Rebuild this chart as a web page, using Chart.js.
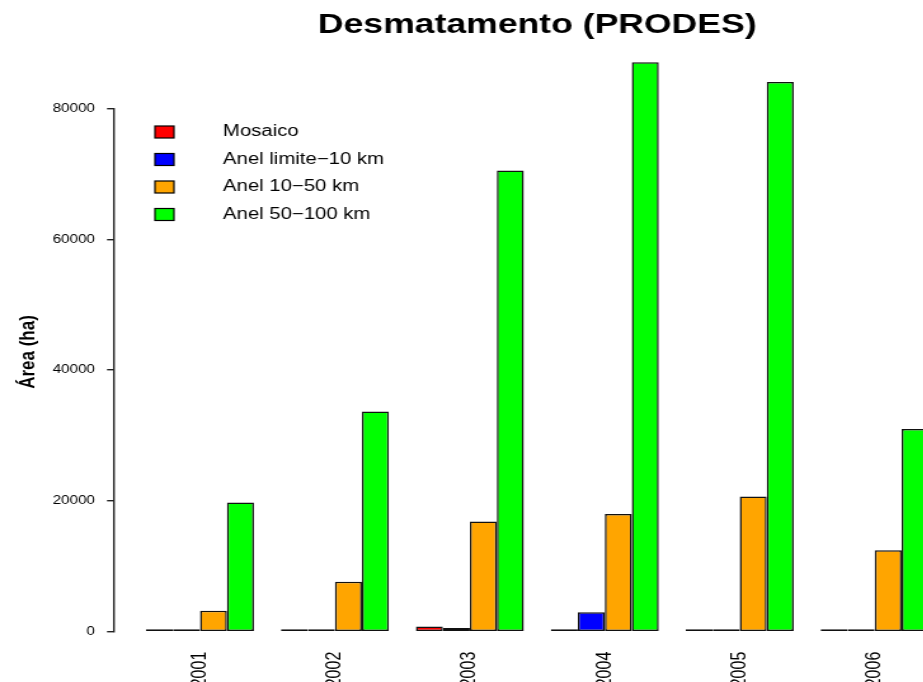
<!DOCTYPE html>
<html>
<head>
<meta charset="utf-8">
<script src="https://cdn.jsdelivr.net/npm/chart.js@4.4.1/dist/chart.umd.min.js"></script>
<style>
  html, body { margin: 0; padding: 0; background: #fff; overflow: hidden; }
  /* o grafico original esta esticado na horizontal */
  #wrap { width: 846px; height: 682px; transform: scaleX(1.27); transform-origin: 0 0; }
</style>
</head>
<body>
<div id="wrap"><canvas id="grafBarras" width="846" height="682"></canvas></div>
<script>
// Dados
const anos = ['2001', '2002', '2003', '2004', '2005', '2006'];
const nomesSeries = ['Mosaico', 'Anel limite\u221210 km', 'Anel 10\u221250 km', 'Anel 50\u2212100 km'];
const mosaico    = [0, 0, 800, 150, 0, 80];
const anelLimite = [0, 0, 550, 2970, 100, 0];
const anel10a50  = [3210, 7650, 16830, 18000, 20650, 12450];
const anel50a100 = [19740, 33660, 70520, 87040, 84050, 31000];
const ticksY = [0, 20000, 40000, 60000, 80000];

const cores = ['#FF0000', '#0000FF', '#FFA500', '#00FF00'];
const series = [mosaico, anelLimite, anel10a50, anel50a100];

const fonte = "'Liberation Sans', Arial, Helvetica, sans-serif";

// legenda e titulo do eixo y desenhados a mao (posicao igual ao R)
const extras = {
  id: 'extras',
  afterDraw(chart) {
    const c = chart.ctx;
    c.save();
    // legenda
    c.font = '16px ' + fonte;
    c.textBaseline = 'middle';
    c.textAlign = 'left';
    chart.data.datasets.forEach((ds, i) => {
      const y = 132 + i * 27.5;
      c.fillStyle = ds.backgroundColor;
      c.fillRect(122, y - 6, 15, 12);
      c.strokeStyle = '#000';
      c.lineWidth = 1.2;
      c.strokeRect(122, y - 6, 15, 12);
      c.fillStyle = '#000';
      c.fillText(ds.label, 175.6, y);
    });
    // titulo eixo y
    c.translate(22.8, 352);
    c.rotate(-Math.PI / 2);
    c.font = 'bold 17px ' + fonte;
    c.textAlign = 'center';
    c.fillText('\u00c1rea (ha)', 0, 0);
    c.restore();
  }
};

const ctx = document.getElementById('grafBarras').getContext('2d');

const myChart = new Chart(ctx, {
  type: 'bar',
  data: {
    datasets: series.map((vals, i) => ({
      label: nomesSeries[i],
      data: vals.map((v, j) => ({ x: Number(anos[j]), y: v })),
      backgroundColor: cores[i],
      borderColor: '#111',
      borderWidth: 1.5,
      borderSkipped: false,
      minBarLength: 2.5,
      clip: false
    }))
  },
  options: {
    responsive: false,
    devicePixelRatio: 1,
    animation: false,
    categoryPercentage: 0.8,
    barPercentage: 1,
    layout: { padding: 0 },
    plugins: {
      legend: { display: false },
      tooltip: { enabled: false },
      title: {
        display: true,
        text: 'Desmatamento (PRODES)',
        color: '#000',
        font: { family: fonte, size: 28, weight: 'bold' },
        padding: { top: 8.2, bottom: 66.6 }
      }
    },
    scales: {
      x: {
        type: 'linear',
        offset: false,
        min: 2000.3628,
        max: 2007.4804,
        grid: { display: false, drawTicks: false, offset: false },
        border: { display: false },
        ticks: {
          stepSize: 1,
          includeBounds: false,
          autoSkip: false,
          maxRotation: 90,
          minRotation: 90,
          padding: 20,
          color: '#000',
          font: { family: fonte, size: 16 },
          callback: (v) => anos.includes(String(v)) ? String(v) : ''
        },
        afterFit: (s) => { s.height = 50.3; }
      },
      y: {
        min: 0,
        max: 80000,
        border: { display: true, color: '#222', width: 1.4 },
        grid: { drawOnChartArea: false, tickLength: 5.5, color: '#222', lineWidth: 1.4 },
        ticks: {
          stepSize: 20000,
          padding: 9.5,
          color: '#000',
          font: { family: fonte, size: 12 },
          callback: (v) => ticksY.includes(v) ? String(v) : ''
        },
        afterFit: (s) => { s.width = 89.76; }
      }
    }
  },
  plugins: [extras]
});
</script>
</body>
</html>
